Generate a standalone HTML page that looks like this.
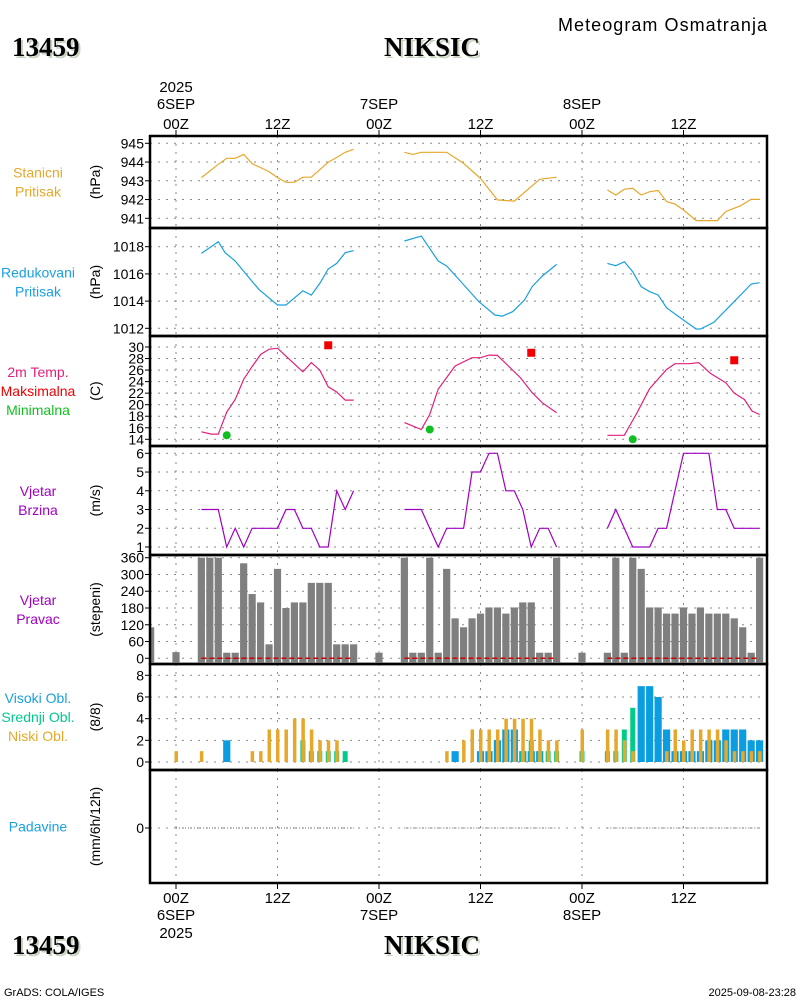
<!DOCTYPE html>
<html><head><meta charset="utf-8"><style>
body{margin:0;background:#fff;}
svg{display:block;font-family:"Liberation Sans",sans-serif;}
</style></head><body>
<svg id="chart" width="800" height="1000" viewBox="0 0 800 1000" xmlns="http://www.w3.org/2000/svg">
<text x="558" y="31" font-size="18" textLength="209" lengthAdjust="spacing">Meteogram Osmatranja</text>
<g font-family="Liberation Serif, serif" font-weight="bold" font-size="27">
<text x="14" y="58" fill="#c8d4c0">13459</text><text x="12" y="56">13459</text></g>
<g font-family="Liberation Serif, serif" font-weight="bold" font-size="27" text-anchor="middle">
<text x="434" y="58" fill="#c8d4c0">NIKSIC</text><text x="432" y="56">NIKSIC</text></g>
<g font-family="Liberation Serif, serif" font-weight="bold" font-size="27">
<text x="14" y="956" fill="#c8d4c0">13459</text><text x="12" y="954">13459</text></g>
<g font-family="Liberation Serif, serif" font-weight="bold" font-size="27" text-anchor="middle">
<text x="434" y="956" fill="#c8d4c0">NIKSIC</text><text x="432" y="954">NIKSIC</text></g>
<text x="4" y="996" font-size="11">GrADS: COLA/IGES</text>
<text x="796" y="996" font-size="11" text-anchor="end">2025-09-08-23:28</text>
<g id="layer"></g>
</svg>
<script>
// ---- data ----
const stnHours1=[3,5,6,7,8,9,11,12,13,14,15,16,18,19,20,21, 27,28,29,32,34,36,38,40,42,43,45, 51,52,53,54,55,56,57,58,59,60,61.5,64,65,66.7,68,69];
const stnPress=[943.17,943.88,944.2,944.2,944.41,943.92,943.49,943.17,942.92,942.92,943.19,943.19,943.99,944.24,944.52,944.68, 944.52,944.41,944.52,944.52,943.93,943.13,941.98,941.92,942.69,943.08,943.19, 942.51,942.24,942.55,942.6,942.24,942.42,942.48,941.89,941.76,941.44,940.88,940.88,941.36,941.66,942.01,942.01];
const stnSeg=[16,11,16];
const redHours=[3,5,5.8,7,8.2,9.8,12,13,15,16,17,18,19,20,21, 27,29,31,32,33.5,35.8,37.7,38.6,39.8,41.2,42.1,43.3,45, 51,52,53,54,55,56,57,58,60,61.5,62,63.6,66,68,69];
const redPress=[1017.51,1018.37,1017.56,1016.95,1016.04,1014.86,1013.71,1013.71,1014.76,1014.44,1015.3,1016.36,1016.77,1017.56,1017.71, 1018.42,1018.78,1016.95,1016.58,1015.55,1013.96,1012.98,1012.9,1013.22,1014.08,1015.06,1015.84,1016.7, 1016.77,1016.6,1016.9,1016.16,1015.06,1014.69,1014.45,1013.51,1012.6,1011.95,1011.95,1012.44,1013.96,1015.26,1015.35];
const redSeg=[15,13,15];
const tHours=[3,4.2,5,6,7,8,9,10,11,12,13,15,16,17,18,19,20,21, 27,29,30,31,33,35,36,37,38,39.3,40.7,42.1,43.3,45, 51,53,54.5,56,58,59,60.7,61.8,63.2,65,66,67.2,68.1,69];
const temps=[15.3,14.9,14.9,18.7,20.9,24.4,26.6,28.7,29.6,29.8,28.4,25.7,27.3,26,23.1,22.2,20.8,20.8, 16.9,15.7,18.3,22.7,26.7,28.15,28.15,28.6,28.55,26.7,24.7,22.1,20.35,18.6, 14.7,14.7,18.6,22.8,26.1,27.1,27.1,27.3,25.4,23.8,22,20.9,18.9,18.3];
const tSeg=[18,14,14];
const maxHours=[18,42,66];
const maxTemps=[30.3,29.0,27.7];
const minHours=[6,30,54];
const minTemps=[14.7,15.7,14.0];
const wsHours=[3,5,6,7,8,9,12,13,14,15,16,17,18,19,20,21, 27,29,30,31,32,33,34,35,36,37,38,39,40,41,42,43,44,45, 51,52,53,54,55,56,57,58,59,60,61,62,63,64,65,66,67,68,69];
const wspd=[3,3,1,2,1,2,2,3,3,2,2,1,1,4,3,4, 3,3,2,1,2,2,2,5,5,6,6,4,4,3,1,2,2,1, 2,3,2,1,1,1,2,2,4,6,6,6,6,3,3,2,2,2,2];
const wsSeg=[16,18,19];
const wdHours=[-3,0,3,4,5,6,7,8,9,10,11,12,13,14,15,16,17,18,19,20,21, 24,27,28,29,30,31,32,33,34,35,36,37,38,39,40,41,42,43,44,45, 48,51,52,53,54,55,56,57,58,59,60,61,62,63,64,65,66,67,68,69];
const wdir=[111,22,360,360,360,20,20,340,230,200,50,320,180,200,200,270,270,270,50,50,50, 20,360,20,20,360,20,320,143,111,143,160,182,182,160,182,200,200,20,20,360, 20,20,360,20,360,320,182,182,160,160,182,160,182,160,160,160,143,111,20,360];
const calmRanges=[[3,21],[27,45],[51,69]];
const cHours=[0,3,6,9,10,11,12,13,14,15,16,17,18,19,20, 32,33,34,35,36,37,38,39,40,41,42,43,44,45, 48,51,52,53,54,55,56,57,58,59,60,61,62,63,64,65,66,67,68,69];
const cLow=[1,1,0,1,1,3,3,3,4,4,3,2,2,2,0, 1,0,2,3,3,3,3,4,4,4,4,3,2,2, 3,3,3,2,1,0,0,0,1,3,2,3,3,3,3,2,1,1,1,1];
const cMid=[0,0,0,0,0,0,0,0,0,2,1,1,1,1,1, 0,0,0,0,0,0,0,0,0,1,2,1,1,1, 1,1,1,3,5,0,0,0,0,0,0,0,0,0,0,0,0,0,0,0];
const cHigh=[0,0,2,0,0,0,0,0,0,0,0,0,0,0,0, 0,1,0,0,1,1,2,3,3,1,1,1,0,0, 0,0,0,0,0,7,7,6,3,1,1,1,1,2,2,3,3,3,2,2];
const precipRanges=[[0,21],[27,45],[51,69]];
const precipVal=[0,0,0];
const timeTickHours=[0,12,24,36,48,60];
const timeTickTop=[["2025","6SEP","00Z"],["","","12Z"],["","7SEP","00Z"],["","","12Z"],["","8SEP","00Z"],["","","12Z"]];
const timeTickBot=[["00Z","6SEP","2025"],["12Z"],["00Z","7SEP"],["12Z"],["00Z","8SEP"],["12Z"]];
const stnTicks=[945,944,943,942,941];
const redTicks=[1018,1016,1014,1012];
const tTicks=[30,28,26,24,22,20,18,16,14];
const wsTicks=[6,5,4,3,2,1];
const wdTicks=[360,300,240,180,120,60,0];
const cTicks=[8,6,4,2,0];
// ---- layout ----
const NS='http://www.w3.org/2000/svg';
const L=150,R=767;
const X=h=>176+h*8.4583;
const layer=document.getElementById('layer');
function el(tag,attrs,parent){const e=document.createElementNS(NS,tag);for(const k in attrs)e.setAttribute(k,attrs[k]);(parent||layer).appendChild(e);return e;}
function lin(v0,y0,v1,y1){return v=>y0+(v-v0)*(y1-y0)/(v1-v0);}
const panels=[
 {top:136,bot:228,y:lin(945,143.3,941,218.3),ticks:stnTicks,unit:"(hPa)",labels:[["Stanicni","#e6a82a"],["Pritisak","#e6a82a"]],name:"station-pressure"},
 {top:228,bot:336,y:lin(1018,246.7,1012,328.3),ticks:redTicks,unit:"(hPa)",labels:[["Redukovani","#1aa0e0"],["Pritisak","#1aa0e0"]],name:"reduced-pressure"},
 {top:336,bot:446,y:lin(30,347,14,439.3),ticks:tTicks,unit:"(C)",labels:[["2m Temp.","#e0207a"],["Maksimalna","#f00000"],["Minimalna","#10c020"]],name:"temperature"},
 {top:446,bot:555,y:lin(6,453.3,1,547),ticks:wsTicks,unit:"(m/s)",labels:[["Vjetar","#a000c0"],["Brzina","#a000c0"]],name:"wind-speed"},
 {top:555,bot:664,y:lin(360,557.7,0,658.3),ticks:wdTicks,unit:"(stepeni)",labels:[["Vjetar","#a000c0"],["Pravac","#a000c0"]],name:"wind-direction"},
 {top:664,bot:770,y:lin(8,675.3,0,762),ticks:cTicks,unit:"(8/8)",labels:[["Visoki Obl.","#1aa0e0"],["Srednji Obl.","#00c890"],["Niski Obl.","#e6a82a"]],name:"cloud-cover"},
 {top:770,bot:883,y:lin(0,828,1,818),ticks:[0],unit:"(mm/6h/12h)",labels:[["Padavine","#1aa0e0"]],name:"precipitation"}
];
panels.forEach((p,i)=>{
 const g=el('g',{});
 
 
 p.g=g;
 p.ticks.forEach(t=>{const yy=p.y(t);
  const gl=el('line',{x1:L,x2:R,y1:yy,y2:yy,stroke:'#888','stroke-dasharray':'2,6'},g);
  
  el('line',{x1:L-5,x2:L,y1:yy,y2:yy,stroke:'#000'},g);
  const tx=el('text',{x:L-6,y:yy+5,'font-size':14,'text-anchor':'end'},g);tx.textContent=t;
  
 });
 timeTickHours.forEach(h=>{const gl=el('line',{x1:X(h),x2:X(h),y1:p.top,y2:p.bot,stroke:'#888','stroke-dasharray':'2,6'},g);
  });
 const ut=el('text',{transform:`translate(${L-50},${(p.top+p.bot)/2}) rotate(-90)`,'font-size':14,'text-anchor':'middle'},g);
 ut.textContent=p.unit;
 const n=p.labels.length, cy=(p.top+p.bot)/2-(n-1)*9.5;
 p.labels.forEach((lb,j)=>{const t=el('text',{x:38,y:cy+j*19+5,'font-size':14,'text-anchor':'middle',fill:lb[1]},g);t.textContent=lb[0];
  });
});
function segLine(p,hours,vals,segs,color,name){let s=0;segs.forEach(n=>{const pts=[];for(let k=s;k<s+n;k++)pts.push(X(hours[k]).toFixed(1)+','+p.y(vals[k]).toFixed(1));s+=n;
 const pl=el('polyline',{points:pts.join(' '),fill:'none',stroke:color,'stroke-width':1.2},p.g);
 });}
segLine(panels[0],stnHours1,stnPress,stnSeg,'#e6a82a','station-pressure-line');
segLine(panels[1],redHours,redPress,redSeg,'#1aa0e0','reduced-pressure-line');
segLine(panels[2],tHours,temps,tSeg,'#e0207a','temperature-line');
maxHours.forEach((h,i)=>{const r=el('rect',{x:X(h)-4,y:panels[2].y(maxTemps[i])-4,width:8,height:8,fill:'#f00000'},panels[2].g);
 });
minHours.forEach((h,i)=>{const c=el('circle',{cx:X(h),cy:panels[2].y(minTemps[i]),r:4,fill:'#10c020'},panels[2].g);
 });
segLine(panels[3],wsHours,wspd,wsSeg,'#a000c0','wind-speed-line');
const wdp=panels[4];
wdHours.forEach((h,i)=>{const x0=Math.max(L,X(h)-3.6),x1=X(h)+3.6,y0=wdp.y(wdir[i]);
 const b=el('rect',{x:x0,y:y0,width:x1-x0,height:wdp.y(0)-y0+4,fill:'#7f7f7f'},wdp.g);
 });
calmRanges.forEach(r=>{const d=el('line',{x1:X(r[0]),x2:X(r[1]),y1:wdp.y(0),y2:wdp.y(0),stroke:'#d00000','stroke-width':1.5,'stroke-dasharray':'5,3'},wdp.g);
 });
const cp=panels[5],c0=cp.y(0);
cHours.forEach((h,i)=>{
 if(cHigh[i]>0){const b=el('rect',{x:X(h)-3.6,y:cp.y(cHigh[i]),width:7.2,height:c0-cp.y(cHigh[i]),fill:'#0a9de0'},cp.g);}
 if(cMid[i]>0){const b=el('rect',{x:X(h)-2.5,y:cp.y(cMid[i]),width:5,height:c0-cp.y(cMid[i]),fill:'#00cc88'},cp.g);}
 if(cLow[i]>0){const b=el('rect',{x:X(h)-1.5,y:cp.y(cLow[i]),width:3.5,height:c0-cp.y(cLow[i]),fill:'#e6a82a'},cp.g);}
});
const pp=panels[6];
precipRanges.forEach((r,i)=>{const d=el('line',{x1:X(r[0]),x2:X(r[1]),y1:pp.y(precipVal[i]),y2:pp.y(precipVal[i]),stroke:'#666','stroke-dasharray':'1,2'},pp.g);
 });
panels.forEach(p=>{const f=el('rect',{x:L,y:p.top,width:R-L,height:p.bot-p.top,fill:'none',stroke:'#000','stroke-width':2.5});
 });
timeTickHours.forEach((h,i)=>{const x=X(h);
 el('line',{x1:x,x2:x,y1:130,y2:136,stroke:'#000'});el('line',{x1:x,x2:x,y1:883,y2:889,stroke:'#000'});
 timeTickTop[i].forEach((s,j)=>{if(!s)return;const t=el('text',{x:x,y:[92,109,129][j],'font-size':15,'text-anchor':'middle'});t.textContent=s;
  });
 timeTickBot[i].forEach((s,j)=>{const t=el('text',{x:x,y:[903,920,938][j],'font-size':15,'text-anchor':'middle'});t.textContent=s;
  });
});
</script>
</body></html>
